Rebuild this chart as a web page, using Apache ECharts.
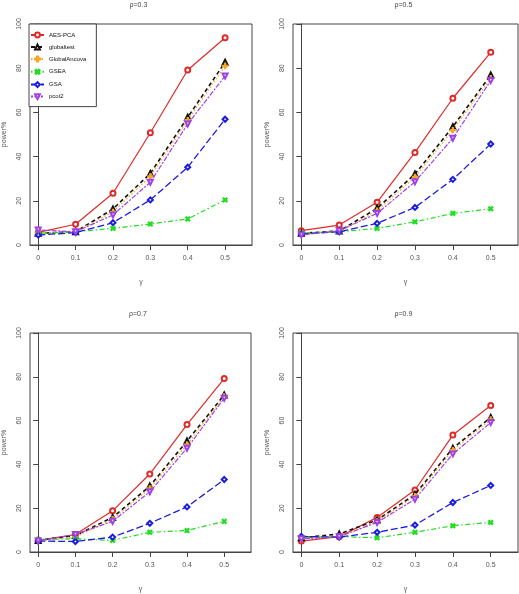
<!DOCTYPE html>
<html>
<head>
<meta charset="utf-8">
<script src="https://cdn.jsdelivr.net/npm/echarts@6/dist/echarts.min.js"></script>
<style>html,body{margin:0;padding:0;background:#fff}#c{width:519px;height:594px}</style>
</head>
<body>
<div id="c"></div>
<script>
var gamma = [0, 0.1, 0.2, 0.3, 0.4, 0.5];
var xTicks = [0, 0.1, 0.2, 0.3, 0.4, 0.5];
var methods = ['AES-PCA', 'globaltest', 'GlobalAncova', 'GSEA', 'GSA', 'pcot2'];
var panelTitles = ['ρ=0.3', 'ρ=0.5', 'ρ=0.7', 'ρ=0.9'];

var rho03_AES = [5.7, 9.4, 23.4, 50.8, 79.2, 93.8];
var rho03_globaltest = [5.3, 6.0, 16.3, 32.4, 57.8, 82.7];
var rho03_GlobalAncova = [5.3, 6.0, 15.0, 31.0, 56.5, 81.0];
var rho03_GSEA = [5.3, 6.0, 7.5, 9.5, 11.8, 20.4];
var rho03_GSA = [4.5, 5.6, 10.1, 20.4, 35.2, 56.9];
var rho03_pcot2 = [6.8, 6.0, 13.6, 28.4, 54.8, 76.5];

var rho05_AES = [6.5, 9.0, 19.3, 41.9, 66.4, 87.2];
var rho05_globaltest = [5.3, 6.3, 16.6, 32.1, 53.5, 76.9];
var rho05_GlobalAncova = [5.0, 6.0, 15.5, 30.8, 52.0, 75.5];
var rho05_GSEA = [5.5, 6.0, 7.5, 10.5, 14.3, 16.4];
var rho05_GSA = [5.0, 6.0, 9.8, 17.0, 29.7, 45.7];
var rho05_pcot2 = [4.5, 6.5, 14.3, 28.6, 48.3, 74.4];

var rho07_AES = [5.3, 8.0, 18.8, 35.6, 58.2, 79.2];
var rho07_globaltest = [5.3, 7.5, 15.8, 30.1, 50.7, 71.7];
var rho07_GlobalAncova = [5.3, 6.8, 15.0, 29.0, 49.0, 71.0];
var rho07_GSEA = [5.7, 6.0, 5.3, 9.0, 9.8, 14.0];
var rho07_GSA = [5.0, 4.8, 6.8, 13.1, 20.6, 33.1];
var rho07_pcot2 = [5.0, 8.0, 14.0, 27.5, 47.4, 70.2];

var rho09_AES = [5.0, 7.0, 15.8, 28.3, 53.4, 66.9];
var rho09_globaltest = [6.5, 8.2, 14.6, 26.3, 47.4, 61.4];
var rho09_GlobalAncova = [6.3, 7.0, 14.0, 25.5, 46.5, 60.5];
var rho09_GSEA = [6.8, 7.0, 6.5, 9.0, 12.0, 13.5];
var rho09_GSA = [7.1, 6.8, 9.0, 12.3, 22.6, 30.4];
var rho09_pcot2 = [6.0, 7.0, 13.5, 24.1, 44.8, 59.1];

var panelData = [
  [rho03_AES, rho03_globaltest, rho03_GlobalAncova, rho03_GSEA, rho03_GSA, rho03_pcot2],
  [rho05_AES, rho05_globaltest, rho05_GlobalAncova, rho05_GSEA, rho05_GSA, rho05_pcot2],
  [rho07_AES, rho07_globaltest, rho07_GlobalAncova, rho07_GSEA, rho07_GSA, rho07_pcot2],
  [rho09_AES, rho09_globaltest, rho09_GlobalAncova, rho09_GSEA, rho09_GSA, rho09_pcot2]
];

var PLUS = 'path://M4,0h2v4h4v2h-4v4h-2v-4h-4v-2h4z';
var styles = [
  {color: '#e02a2a', type: 'solid', symbol: 'emptyCircle', rot: 0, w: 1.2},
  {color: '#111111', type: [4, 3], symbol: 'emptyTriangle', rot: 0, w: 1.6},
  {color: '#f5a623', type: [1.5, 2], symbol: PLUS, rot: 0, w: 1.2},
  {color: '#22dd22', type: [1.5, 2.5, 5, 2.5], symbol: PLUS, rot: 45, w: 1.2},
  {color: '#1c1ce0', type: [7, 3], symbol: 'emptyDiamond', rot: 0, w: 1.3},
  {color: '#a040e8', type: [2, 1.5, 5, 1.5], symbol: 'emptyTriangle', rot: 180, w: 1.2}
];

var grids = [
  {left: 29, top: 24, width: 223, height: 221},
  {left: 293, top: 24, width: 225, height: 221},
  {left: 29, top: 333, width: 222, height: 222},
  {left: 293, top: 333, width: 225, height: 222}
];

var FONT = 'Liberation Sans';
var axisColor = '#444';
var option = {
  animation: false,
  backgroundColor: '#fff',
  textStyle: {fontFamily: FONT},
  grid: [], xAxis: [], yAxis: [], series: [], graphic: [],
  legend: {
    orient: 'vertical', left: 29, top: 24,
    data: methods,
    backgroundColor: '#fff',
    borderColor: '#444', borderWidth: 1, borderRadius: 0,
    padding: [7, 10, 6, 1],
    itemWidth: 13, itemHeight: 6, itemGap: 4,
    textStyle: {fontFamily: FONT, fontSize: 6, color: '#111', padding: [0, 0, 0, 0], lineHeight: 8},
    selectedMode: false
  }
};

grids.forEach(function (g, i) {
  option.grid.push({left: g.left, top: g.top, width: g.width, height: g.height, show: true, borderColor: axisColor, borderWidth: 1, backgroundColor: 'transparent'});
  option.xAxis.push({
    type: 'value', gridIndex: i, min: -0.022, max: 0.572,
    name: 'γ', nameLocation: 'middle', nameGap: 34,
    nameTextStyle: {fontFamily: FONT, fontSize: 7, color: '#555'},
    splitLine: {show: false},
    axisLine: {show: true, lineStyle: {color: axisColor}},
    axisTick: {show: true, length: 5, lineStyle: {color: axisColor}, customValues: xTicks},
    axisLabel: {fontFamily: FONT, fontSize: 7, color: '#555', margin: 10, customValues: xTicks,
      formatter: function (v) { return String(Math.round(v * 10) / 10); }}
  });
  option.yAxis.push({
    type: 'value', gridIndex: i, min: 0, max: 100, interval: 20,
    name: 'power%', nameLocation: 'middle', nameGap: 22, nameRotate: 90,
    nameTextStyle: {fontFamily: FONT, fontSize: 7, color: '#555'},
    splitLine: {show: false},
    axisLine: {show: true, lineStyle: {color: axisColor}},
    axisTick: {show: true, length: 5, lineStyle: {color: axisColor}},
    axisLabel: {fontFamily: FONT, fontSize: 7, color: '#555', rotate: 90, margin: 7}
  });
  option.graphic.push({
    type: 'text', left: g.left + g.width / 2 - 11, top: g.top - 22,
    style: {text: panelTitles[i], font: '7px "' + FONT + '"', fill: '#444'}
  });
  panelData[i].forEach(function (vals, k) {
    var s = styles[k];
    option.series.push({
      type: 'line', name: methods[k], xAxisIndex: i, yAxisIndex: i,
      data: gamma.map(function (x, j) { return [x, vals[j]]; }),
      symbol: s.symbol, symbolSize: 5, symbolRotate: s.rot,
      lineStyle: {color: s.color, width: s.w, type: s.type},
      itemStyle: {color: s.color, borderColor: s.color, borderWidth: 1.3},
      emphasis: {disabled: true}, silent: true, z: 2 + k
    });
  });
});

var chart = echarts.init(document.getElementById('c'), null, {renderer: 'canvas'});
chart.setOption(option);
</script>
</body>
</html>
